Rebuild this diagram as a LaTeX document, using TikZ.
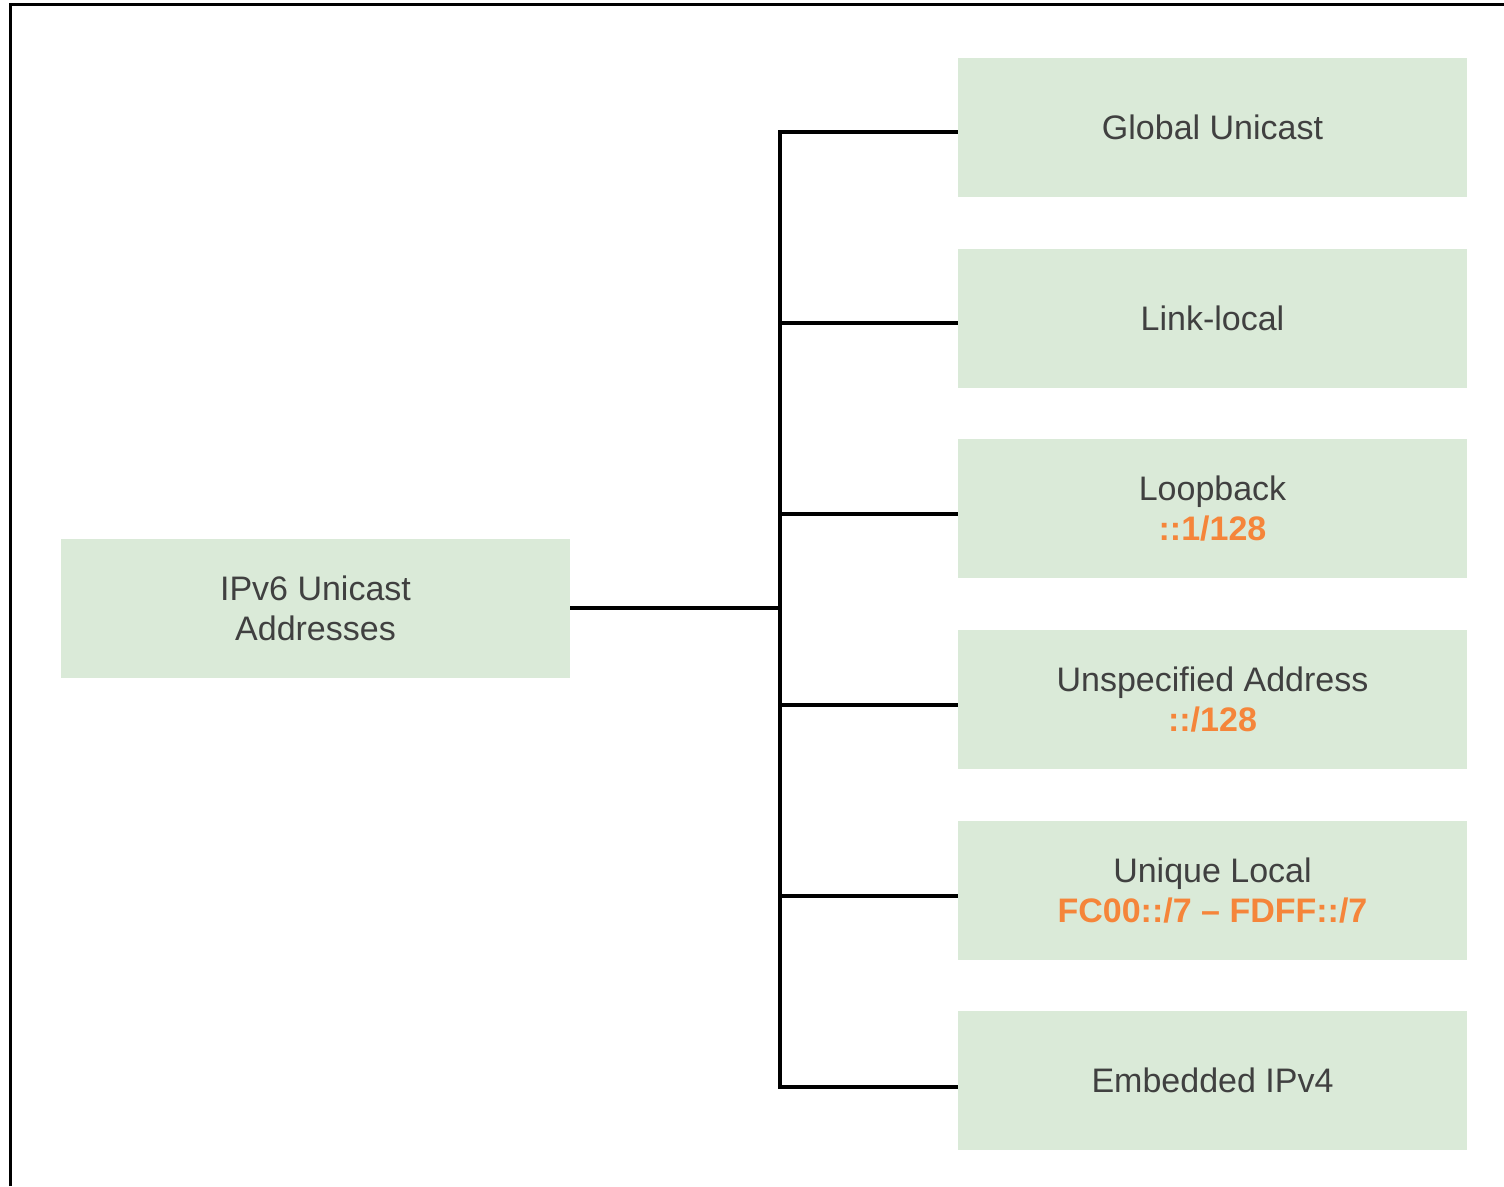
\documentclass[tikz,border=0pt]{standalone}
\usepackage{fontspec}
\setmainfont{Liberation Sans}
\definecolor{boxfill}{HTML}{DAEAD8}
\definecolor{txt}{HTML}{404040}
\definecolor{addr}{HTML}{F5853A}
\begin{document}
\begin{tikzpicture}[x=1pt,y=-1pt,
  box/.style={fill=boxfill, draw=none, minimum width=509pt, minimum height=139pt, inner sep=0pt,
    align=center, text=txt, font=\fontsize{34}{40}\selectfont, text depth=-6pt},
  conn/.style={line width=4pt, black, line join=miter}]
\useasboundingbox (0,0) rectangle (1504,1186);
\draw[line width=3pt] (10,1186) -- (10,4) -- (1504,4);
\node[box] (root) at (315.5,608.5) {IPv6 Unicast\\Addresses};
\node[box] (g) at (1212.5,127) {Global Unicast};
\node[box] (l) at (1212.5,318) {Link-local};
\node[box] (lo) at (1212.5,508.5) {Loopback\\{\bfseries\color{addr}::1/128}};
\node[box] (u) at (1212.5,699) {Unspecified Address\\{\bfseries\color{addr}::/128}};
\node[box] (ul) at (1212.5,890) {Unique Local\\{\bfseries\color{addr}FC00::/7 – FDFF::/7}};
\node[box] (e) at (1212.5,1080.5) {Embedded IPv4};
\coordinate (hub) at (780,608);
\draw[conn] (root.east |- hub) -- (hub);
\draw[conn] (g.west |- 0,132) -- (780,132) -- (780,1087) -- (e.west |- 0,1087);
\foreach \n/\y in {l/323, lo/514, u/705, ul/896}
  \draw[conn] (780,\y) -- (\n.west |- 0,\y);
\end{tikzpicture}
\end{document}
